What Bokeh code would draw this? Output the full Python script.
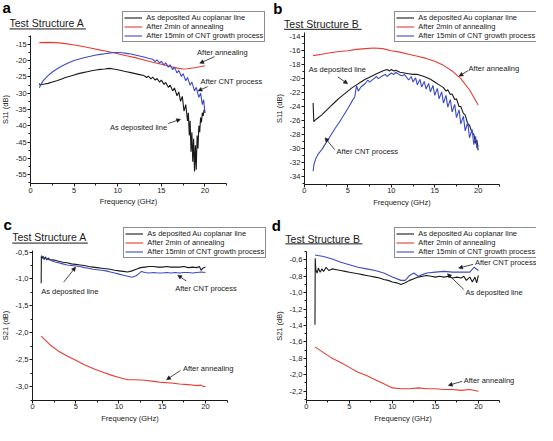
from bokeh.plotting import figure
from bokeh.models import (Range1d, Legend, LegendItem, Label, Arrow, NormalHead, LinearAxis,
                          SingleIntervalTicker, CustomJSTickFormatter)
from bokeh.layouts import column, row
from bokeh.embed import file_html
from bokeh.resources import INLINE

# ---------------- data ----------------
SERIES_LABELS = ["As deposited Au coplanar line", "After 2min of annealing",
                 "After 15min of CNT growth process"]

# Panel a : S11, Test Structure A
a_black_f = [1.0, 1.1, 1.3, 1.6, 2.0, 2.5, 3.0, 3.5, 4.0, 4.5, 5.0, 5.5, 6.0, 6.5, 7.0, 7.5, 8.0, 8.5,
             9.0, 9.5, 10.0, 10.5, 11.0, 11.5, 12.0, 12.5, 13.0, 13.3, 13.5, 13.8, 14.0, 14.3, 14.5,
             14.8, 15.0, 15.3, 15.5, 15.8, 16.0, 16.3, 16.5, 16.8, 17.0, 17.2, 17.4, 17.6, 17.8, 18.0,
             18.1, 18.2, 18.3, 18.4, 18.5, 18.6, 18.7, 18.8, 18.9, 19.0, 19.1, 19.2, 19.3, 19.4, 19.5,
             19.6, 19.7, 19.8, 19.9, 20.0]
a_black_v = [-27.0, -27.6, -27.3, -27.2, -27.0, -26.6, -26.2, -25.7, -25.2, -24.8, -24.4, -24.0, -23.7,
             -23.4, -23.1, -22.9, -22.7, -22.6, -22.4, -22.6, -22.8, -23.1, -23.4, -23.7, -24.0, -24.3,
             -24.6, -25.2, -24.8, -25.6, -25.1, -26.0, -25.5, -26.6, -26.0, -27.3, -26.7, -28.2, -27.5,
             -29.3, -28.4, -30.8, -29.6, -32.5, -31.0, -35.5, -33.5, -38.5, -36.0, -43.0, -38.5, -48.0,
             -42.0, -51.0, -44.0, -54.0, -46.0, -53.5, -43.0, -47.0, -40.0, -42.0, -37.5, -39.0, -36.0,
             -37.0, -35.0, -36.0]
a_red_f = [1, 2, 3, 4, 5, 6, 7, 8, 9, 10, 11, 12, 13, 14, 15, 16, 17, 17.5, 18, 19, 20]
a_red_v = [-14.5, -14.4, -14.5, -14.8, -15.2, -15.7, -16.2, -16.8, -17.3, -17.9, -18.5, -19.1, -19.8,
           -20.5, -21.1, -21.8, -22.4, -22.6, -22.5, -22.1, -21.6]
a_blue_f = [1.0, 1.2, 1.5, 2.0, 2.5, 3.0, 3.5, 4.0, 4.5, 5.0, 5.5, 6.0, 6.5, 7.0, 7.5, 8.0, 8.5, 9.0, 9.5,
            10.0, 10.5, 11.0, 11.5, 12.0, 12.5, 13.0, 13.5, 14.0, 14.3, 14.5, 14.8, 15.0, 15.3, 15.5,
            15.8, 16.0, 16.3, 16.5, 16.8, 17.0, 17.3, 17.5, 17.8, 18.0, 18.3, 18.5, 18.8, 19.0, 19.3,
            19.5, 19.7, 19.85, 20.0]
a_blue_v = [-28.3, -27.2, -26.0, -24.6, -23.5, -22.6, -21.8, -21.1, -20.5, -20.0, -19.6, -19.2, -18.9,
            -18.6, -18.3, -18.1, -17.9, -17.7, -17.5, -17.5, -17.6, -17.8, -18.0, -18.3, -18.6, -18.9,
            -19.3, -19.6, -20.3, -19.8, -20.8, -20.2, -21.3, -20.7, -22.0, -21.3, -22.8, -22.0, -23.8,
            -23.0, -24.9, -24.0, -26.2, -25.2, -27.6, -26.6, -29.3, -28.2, -31.3, -30.0, -33.5, -32.0,
            -36.0]

# Panel b : S11, Test Structure B
b_black_f = [1.0, 1.08, 1.2, 1.5, 2.0, 2.5, 3.0, 3.5, 4.0, 4.5, 5.0, 5.5, 6.0, 6.5, 7.0, 7.5, 8.0, 8.5,
             9.0, 9.5, 9.8, 10.0, 10.3, 10.5, 11.0, 11.5, 12.0, 12.5, 13.0, 13.5, 14.0, 14.5, 15.0, 15.5,
             16.0, 16.3, 16.5, 16.8, 17.0, 17.3, 17.5, 17.8, 18.0, 18.3, 18.5, 18.8, 19.0, 19.3, 19.5,
             19.7, 19.85, 20.0]
b_black_v = [-23.5, -26.2, -26.0, -25.7, -25.2, -24.6, -24.0, -23.4, -22.8, -22.3, -21.8, -21.3, -20.9,
             -20.5, -20.1, -19.8, -19.5, -19.2, -18.9, -18.7, -18.9, -18.7, -18.9, -18.8, -19.1, -19.2,
             -19.3, -19.4, -19.4, -19.6, -19.8, -20.1, -20.5, -20.9, -21.3, -21.8, -21.6, -22.3, -22.2,
             -23.0, -22.9, -24.0, -24.0, -25.0, -25.2, -26.5, -26.7, -27.8, -28.0, -29.3, -28.8, -30.3]
b_red_f = [1, 2, 3, 4, 5, 6, 7, 8, 9, 10, 11, 12, 13, 14, 15, 16, 17, 18, 19, 20]
b_red_v = [-16.7, -16.5, -16.3, -16.1, -16.0, -15.8, -15.7, -15.6, -15.7, -16.0, -16.2, -16.5, -16.8,
           -17.1, -17.5, -18.1, -18.9, -20.0, -21.6, -23.8]
b_blue_f = [1.0, 1.1, 1.3, 1.6, 2.0, 2.5, 3.0, 3.5, 4.0, 4.5, 5.0, 5.5, 5.8, 6.0, 6.2, 6.5, 7.0, 7.3, 7.5,
            8.0, 8.3, 8.5, 9.0, 9.3, 9.5, 10.0, 10.3, 10.5, 11.0, 11.3, 11.5, 12.0, 12.3, 12.5, 12.8,
            13.0, 13.3, 13.5, 13.8, 14.0, 14.3, 14.5, 14.8, 15.0, 15.3, 15.5, 15.8, 16.0, 16.3, 16.5,
            16.8, 17.0, 17.3, 17.5, 17.8, 18.0, 18.3, 18.5, 18.8, 19.0, 19.3, 19.5, 19.7, 19.85, 20.0]
b_blue_v = [-33.3, -32.3, -31.5, -30.8, -30.2, -29.2, -28.2, -27.2, -26.3, -25.3, -24.3, -23.2, -22.6,
            -21.0, -21.8, -21.2, -20.7, -20.2, -20.5, -20.0, -19.7, -20.0, -19.6, -19.4, -19.7, -19.2,
            -19.4, -19.1, -19.5, -19.6, -19.4, -20.2, -19.7, -20.5, -19.9, -20.9, -20.1, -21.2, -20.4,
            -21.5, -20.7, -21.9, -21.0, -22.4, -21.4, -22.9, -21.9, -23.5, -22.4, -24.1, -23.0, -24.8,
            -23.7, -25.6, -24.5, -26.5, -25.4, -27.5, -26.3, -28.5, -27.3, -29.5, -28.3, -30.0, -29.5]

# Panel c : S21, Test Structure A
c_black_f = [1.0, 1.02, 1.1, 1.2, 1.35, 1.5, 1.65, 1.8, 2.0, 2.5, 3.0, 3.5, 4.0, 4.5, 5.0, 5.5, 6.0, 6.5,
             7.0, 7.5, 8.0, 8.5, 9.0, 9.5, 10.0, 10.5, 11.0, 11.5, 12.0, 12.5, 13.0, 13.5, 14.0, 14.5,
             15.0, 15.5, 16.0, 16.5, 17.0, 17.5, 18.0, 18.5, 19.0, 19.3, 19.5, 19.7, 20.0]
c_black_v = [-1.08, -0.57, -0.62, -0.58, -0.64, -0.59, -0.65, -0.61, -0.64, -0.65, -0.67, -0.69, -0.70,
             -0.72, -0.73, -0.74, -0.75, -0.77, -0.78, -0.79, -0.80, -0.81, -0.82, -0.84, -0.85, -0.86,
             -0.87, -0.85, -0.82, -0.79, -0.78, -0.77, -0.77, -0.78, -0.78, -0.77, -0.78, -0.78, -0.78,
             -0.77, -0.79, -0.78, -0.79, -0.77, -0.84, -0.80, -0.78]
c_red_f = [1, 2, 3, 4, 5, 6, 7, 8, 9, 10, 11, 12, 13, 14, 15, 16, 17, 18, 19, 19.5, 19.8, 20]
c_red_v = [-2.06, -2.22, -2.34, -2.43, -2.51, -2.59, -2.66, -2.72, -2.78, -2.83, -2.87, -2.87, -2.88,
           -2.90, -2.92, -2.93, -2.95, -2.96, -2.98, -2.97, -3.00, -2.99]
c_blue_f = [1.0, 1.5, 2.0, 2.5, 3.0, 3.5, 4.0, 4.5, 5.0, 5.5, 6.0, 6.5, 7.0, 7.5, 8.0, 8.5, 9.0, 9.5, 10.0,
            10.5, 11.0, 11.5, 12.0, 12.3, 12.6, 13.0, 13.5, 14.0, 14.5, 15.0, 15.5, 16.0, 16.5, 17.0,
            17.5, 18.0, 18.5, 19.0, 19.5, 20.0]
c_blue_v = [-0.57, -0.62, -0.65, -0.68, -0.70, -0.72, -0.74, -0.75, -0.76, -0.77, -0.79, -0.80, -0.82,
            -0.83, -0.84, -0.85, -0.87, -0.89, -0.91, -0.93, -0.95, -0.97, -0.94, -0.90, -0.86, -0.88,
            -0.89, -0.88, -0.89, -0.89, -0.88, -0.89, -0.88, -0.89, -0.88, -0.88, -0.89, -0.88, -0.87,
            -0.88]

# Panel d : S21, Test Structure B
d_black_f = [1.0, 1.03, 1.1, 1.25, 1.4, 1.6, 1.8, 2.0, 2.3, 2.6, 3.0, 3.5, 4.0, 4.5, 5.0, 5.5, 6.0, 6.5,
             7.0, 7.5, 8.0, 8.5, 9.0, 9.5, 10.0, 10.5, 11.0, 11.5, 12.0, 12.5, 13.0, 13.5, 14.0, 14.5,
             15.0, 15.5, 16.0, 16.5, 17.0, 17.5, 18.0, 18.3, 18.6, 19.0, 19.3, 19.6, 19.8, 20.0]
d_black_v = [-1.39, -0.58, -0.72, -0.76, -0.70, -0.75, -0.71, -0.74, -0.69, -0.73, -0.71, -0.72, -0.73,
             -0.74, -0.75, -0.76, -0.77, -0.78, -0.79, -0.80, -0.81, -0.82, -0.84, -0.85, -0.87, -0.88,
             -0.90, -0.88, -0.85, -0.83, -0.81, -0.80, -0.79, -0.80, -0.81, -0.80, -0.81, -0.80, -0.82,
             -0.81, -0.82, -0.80, -0.85, -0.81, -0.87, -0.81, -0.88, -0.79]
d_red_f = [1, 2, 3, 4, 5, 6, 7, 8, 9, 10, 11, 12, 13, 14, 15, 16, 17, 18, 19, 20]
d_red_v = [-1.66, -1.73, -1.80, -1.85, -1.91, -1.97, -2.01, -2.06, -2.11, -2.16, -2.17, -2.17, -2.16,
           -2.17, -2.17, -2.18, -2.18, -2.19, -2.18, -2.20]
d_blue_f = [1, 2, 3, 4, 5, 6, 7, 8, 9, 10, 11, 11.5, 12, 12.5, 13, 13.5, 14, 15, 16, 17, 18, 19, 19.5, 20]
d_blue_v = [-0.54, -0.56, -0.59, -0.63, -0.66, -0.69, -0.71, -0.73, -0.76, -0.81, -0.85, -0.85, -0.79,
            -0.76, -0.80, -0.78, -0.76, -0.75, -0.74, -0.75, -0.75, -0.75, -0.69, -0.73]

# ---------------- styling / layout ----------------
W = 268
FONT = "Liberation Sans"
INK = "#1a1a1a"
COLORS = ["#1a1a1a", "#e63c32", "#3b4bc8"]
FS = "7.5px"
LEG_H = 29


def make_panel(H, ref_h, letter, title, ylabel, curves, xr, yr, yint, decimals, frame_ref,
               legend_ref, letter_ref, title_ref, underline_ref, notes):
    SX, SY = W / 276.0, H / float(ref_h)
    # frame_ref: left, right, top, bottom of the plotting area, in reference-panel pixels
    fl, fr, ft, fb = frame_ref[0] * SX, frame_ref[1] * SX, frame_ref[2] * SY, frame_ref[3] * SY
    ppx = (fr - fl) / (xr[1] - xr[0])
    ppy = (fb - ft) / (yr[1] - yr[0])
    x_range = Range1d(xr[0] - fl / ppx, xr[1] + (W - fr) / ppx)
    y_range = Range1d(yr[0] - (H - fb) / ppy, yr[1] + ft / ppy)

    p = figure(width=W, height=H, x_range=x_range, y_range=y_range,
               output_backend="svg", toolbar_location=None, title=None,
               x_axis_location=None, y_axis_location=None,
               min_border_left=0, min_border_right=0, min_border_top=0, min_border_bottom=0)
    p.outline_line_color = None
    p.grid.visible = False
    p.background_fill_color = "white"

    xaxis = LinearAxis(fixed_location=yr[0], bounds=xr,
                       ticker=SingleIntervalTicker(interval=5, num_minor_ticks=2),
                       formatter=CustomJSTickFormatter(code="return tick.toFixed(0);"),
                       axis_label="Frequency (GHz)")
    yaxis = LinearAxis(fixed_location=xr[0], bounds=yr,
                       ticker=SingleIntervalTicker(interval=yint, num_minor_ticks=2),
                       formatter=CustomJSTickFormatter(
                           code="return tick.toFixed(%d).replace('.', ',');" % decimals),
                       axis_label=ylabel)
    for ax in (xaxis, yaxis):
        ax.axis_line_color = INK
        ax.major_tick_line_color = INK
        ax.minor_tick_line_color = INK
        ax.major_tick_in = 0
        ax.major_tick_out = 3
        ax.minor_tick_in = 0
        ax.minor_tick_out = 2
        ax.major_label_text_font = FONT
        ax.major_label_text_font_size = FS
        ax.major_label_text_color = INK
        ax.major_label_standoff = 1
        ax.axis_label_text_font = FONT
        ax.axis_label_text_font_size = FS
        ax.axis_label_text_font_style = "normal"
        ax.axis_label_text_color = INK
    xaxis.axis_label_standoff = 1
    yaxis.axis_label_standoff = 3
    p.add_layout(xaxis, "below")
    p.add_layout(yaxis, "left")

    rends = []
    for (f, v), col in zip(curves, COLORS):
        rends.append(p.line(f, v, line_color=col, line_width=1.1))

    def sx(x):
        return x * SX

    def sy(y):
        return H - y * SY

    leg = Legend(items=[LegendItem(label=lab, renderers=[r]) for lab, r in zip(SERIES_LABELS, rends)],
                 location=(sx(legend_ref[0]), sy(legend_ref[1]) - LEG_H),
                 border_line_color=INK, border_line_width=1, background_fill_color="white",
                 background_fill_alpha=1.0, label_text_font=FONT, label_text_font_size=FS,
                 label_text_color=INK, glyph_width=18, glyph_height=9, label_height=9,
                 label_standoff=4, padding=1, spacing=0, margin=0)
    p.add_layout(leg)

    p.add_layout(Label(x=sx(letter_ref[0]), y=sy(letter_ref[1]), x_units="screen", y_units="screen",
                       text=letter, text_font=FONT, text_font_size="15px", text_font_style="bold",
                       text_color="black", text_baseline="middle"))
    p.add_layout(Label(x=sx(title_ref[0]), y=sy(title_ref[1]), x_units="screen", y_units="screen",
                       text=title, text_font=FONT, text_font_size="10.5px", text_color=INK,
                       text_baseline="middle"))
    p.add_layout(Arrow(end=None, start=None, x_start=sx(underline_ref[0]), x_end=sx(underline_ref[1]),
                       y_start=sy(underline_ref[2]), y_end=sy(underline_ref[2]),
                       start_units="screen", end_units="screen", line_color=INK, line_width=1))

    for text, tx, ty, xt, yt, xh, yh in notes:
        p.add_layout(Label(x=tx, y=ty, text=text, text_font=FONT, text_font_size=FS,
                           text_color=INK, text_baseline="middle"))
        p.add_layout(Arrow(end=NormalHead(size=4, fill_color=INK, line_color=INK, line_width=0.5),
                           x_start=xt, y_start=yt, x_end=xh, y_end=yh,
                           line_color=INK, line_width=0.8))
    return p


H_TOP, H_BOT = 210, 215

pa = make_panel(H_TOP, 220, "a", "Test Structure A", "S11 (dB)",
                [(a_black_f, a_black_v), (a_red_f, a_red_v), (a_blue_f, a_blue_v)],
                (0, 22.5), (-57.8, -12.4), 5, 0, (31, 233, 37, 192),
                (126, 14), (2, 7.7), (9.3, 23.8), (9.3, 88, 29.8),
                [("After annealing", 19.1, -17.4, 21.1, -18.8, 19.4, -20.8),
                 ("After CNT process", 19.5, -26.3, 20.3, -28.0, 19.2, -29.3),
                 ("As deposited line", 9.1, -40.5, 15.8, -39.3, 17.2, -38.0)])

pb = make_panel(H_TOP, 220, "b", "Test Structure B", "S11 (dB)",
                [(b_black_f, b_black_v), (b_red_f, b_red_v), (b_blue_f, b_blue_v)],
                (0, 22.5), (-35.2, -13.35), 2, 0, (37, 238.3, 33.3, 192.7),
                (130, 14), (5, 7.9), (16, 24.3), (16, 96, 30.2),
                [("As deposited line", 0.5, -18.75, 3.86, -19.75, 4.97, -20.75),
                 ("After annealing", 18.9, -18.5, 18.85, -18.84, 17.8, -19.66),
                 ("After CNT process", 3.7, -30.5, 3.48, -30.2, 2.37, -28.5)])

pc = make_panel(H_BOT, 221, "c", "Test Structure A", "S21 (dB)",
                [(c_black_f, c_black_v), (c_red_f, c_red_v), (c_blue_f, c_blue_v)],
                (0, 22.5), (-3.25, -0.47), 0.5, 1, (33, 233.3, 41, 195),
                (127, 20), (3, 14.5), (12, 27.5), (12, 90, 33.5),
                [("As deposited line", 1.0, -1.23, 3.6, -1.06, 4.98, -0.78),
                 ("After CNT process", 16.5, -1.17, 17.8, -1.04, 16.8, -0.93),
                 ("After annealing", 17.4, -2.67, 17.1, -2.70, 15.5, -2.87)])

pd = make_panel(H_BOT, 221, "d", "Test Structure B", "S21 (dB)",
                [(d_black_f, d_black_v), (d_red_f, d_red_v), (d_blue_f, d_blue_v)],
                (0, 22.5), (-2.31, -0.50), 0.2, 1, (39, 238.3, 42.3, 195),
                (130, 20), (3.3, 15.3), (17.3, 29.2), (17.3, 96.7, 34.3),
                [("After CNT process", 19.6, -0.63, 19.4, -0.655, 17.7, -0.70),
                 ("As deposited line", 18.5, -1.0, 18.3, -0.96, 16.4, -0.77),
                 ("After annealing", 18.3, -2.07, 18.1, -2.08, 16.5, -2.13)])

layout = column(row(pa, pb), row(pc, pd))
open("out.html", "w").write(file_html(layout, INLINE))
